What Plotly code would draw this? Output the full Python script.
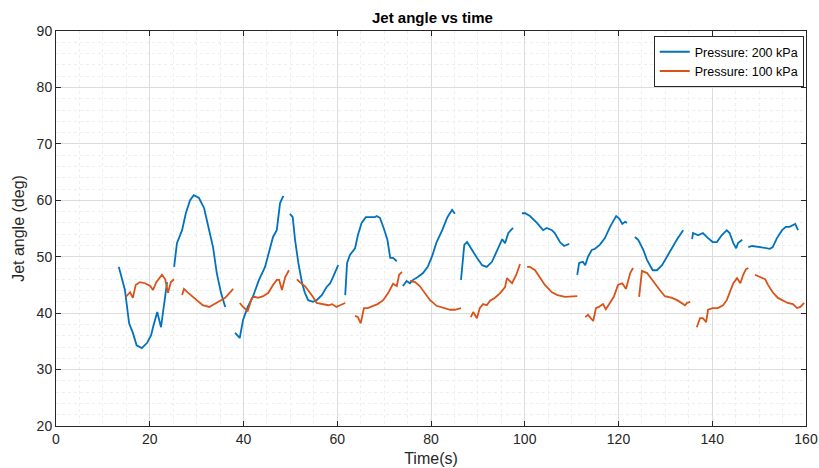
import plotly.graph_objects as go

# Pressure 200 kPa (segments separated by None)
t_200 = [13.4,14.7,15.6,16.4,17.2,18.3,19.4,20.3,20.7,21.6,22.4,23.1,23.7,None,
         25.2,25.8,26.9,27.7,28.6,29.4,30.5,31.6,32.5,33.5,34.3,35.2,36.1,None,
         38.2,39.2,39.9,40.9,42.0,43.3,44.6,45.7,46.3,47.1,47.8,48.5,None,
         49.9,50.5,51.0,51.7,52.5,53.1,53.8,54.8,55.6,56.7,57.7,58.5,59.3,60.2,None,
         61.7,62.1,62.7,63.8,64.4,65.2,66.1,68.0,68.4,69.1,69.9,70.7,71.3,71.9,72.7,None,
         74.0,74.8,75.5,76.2,77.2,78.3,79.3,80.2,81.2,82.4,83.5,84.5,85.1,None,
         86.4,87.1,87.7,88.7,89.8,90.9,91.9,93.0,94.0,95.2,95.8,96.5,97.5,None,
         99.4,100.1,101.1,102.6,103.9,104.7,105.8,106.4,107.5,108.4,109.5,None,
         111.2,111.6,112.4,112.9,113.5,114.3,115.0,116.0,117.1,118.2,119.5,120.2,120.8,121.4,121.8,None,
         123.5,124.2,125.3,126.1,127.3,128.2,129.3,130.3,131.4,132.5,133.8,None,
         135.7,135.9,137.0,138.0,139.1,140.1,141.0,142.0,143.1,143.7,144.5,145.1,145.5,146.4,None,
         147.7,148.5,150.2,151.3,152.3,152.9,153.8,154.9,155.7,156.5,157.7,158.3]
y_200 = [48.2,44.1,38.2,36.5,34.3,33.8,34.7,36.1,37.5,40.2,37.5,41.8,45.5,None,
         48.2,52.4,54.7,57.7,60.0,60.9,60.4,58.6,55.3,51.7,47.1,43.6,41.1,None,
         36.5,35.6,38.8,41.1,42.9,45.9,48.2,51.7,53.5,54.7,59.5,60.8,None,
         57.6,57.0,53.0,48.9,45.3,43.6,42.3,42.0,42.3,43.2,44.6,45.3,46.8,48.5,None,
         43.2,48.9,50.3,51.5,53.8,56.0,57.0,57.0,57.2,56.9,55.1,53.0,49.8,49.8,49.2,None,
         44.8,45.7,45.3,45.9,46.4,47.1,48.2,50.0,52.6,54.7,57.0,58.3,57.6,None,
         45.9,52.1,52.6,51.2,49.8,48.5,48.2,49.1,50.8,53.1,52.4,54.2,55.1,None,
         57.7,57.7,57.2,56.0,54.7,55.1,54.7,54.2,52.6,51.9,52.3,None,
         46.8,48.9,49.1,48.5,50.0,51.2,51.4,52.1,53.3,55.3,57.2,56.7,55.8,56.2,56.0,None,
         53.5,53.0,51.2,49.4,47.6,47.6,48.5,50.0,51.7,53.1,54.7,None,
         53.1,54.2,53.8,54.2,53.3,52.6,52.6,53.8,54.7,54.2,52.4,51.5,52.4,53.0,None,
         51.7,51.9,51.7,51.5,51.4,51.7,53.3,54.7,55.3,55.3,55.8,54.7]

# Pressure 100 kPa
t_100 = [14.9,15.8,16.4,17.0,17.9,19.0,20.1,20.7,21.4,22.6,23.3,23.9,24.5,25.2,None,
         26.9,27.3,28.2,29.2,30.3,31.3,32.7,34.0,35.0,36.1,37.8,None,
         39.2,39.9,40.9,41.8,42.4,43.1,44.2,45.3,46.3,47.1,47.6,48.2,48.9,49.7,None,
         51.4,52.0,53.1,53.8,54.8,55.6,56.9,58.1,58.9,59.8,60.6,61.7,None,
         63.8,64.4,65.0,65.7,66.5,67.6,68.6,69.8,70.9,71.9,72.7,73.2,73.8,None,
         75.5,76.6,77.6,78.7,79.8,81.2,82.6,84.1,85.1,86.4,None,
         88.5,89.0,89.8,90.4,91.1,91.9,92.6,93.6,94.8,95.8,96.2,97.3,98.2,99.0,None,
         100.5,101.1,102.2,103.2,104.3,105.8,107.0,108.6,110.1,111.2,None,
         112.9,113.5,114.6,115.2,115.8,116.7,117.3,118.1,119.0,119.9,120.8,121.6,122.5,123.1,None,
         124.4,125.0,126.1,126.7,127.8,128.8,129.9,131.4,132.5,133.6,134.2,134.6,135.3,None,
         136.7,137.4,138.0,138.7,139.1,140.1,141.2,142.3,143.1,143.7,144.5,145.3,146.0,146.6,147.2,147.7,None,
         149.1,150.2,151.3,151.9,152.9,154.0,155.1,156.1,157.2,158.1,158.8,159.6]
y_100 = [42.9,43.7,42.7,45.0,45.5,45.3,44.8,44.1,45.5,46.8,46.0,43.6,45.5,46.0,None,
         43.2,44.3,43.6,42.9,42.0,41.4,41.1,41.8,42.2,42.7,44.3,None,
         41.8,41.1,40.4,42.7,42.9,42.7,43.0,43.6,45.0,45.9,45.9,44.1,46.4,47.6,None,
         46.0,45.5,44.8,44.1,42.9,41.8,41.6,41.4,41.6,41.1,41.4,41.8,None,
         39.5,39.3,38.2,40.9,40.9,41.3,41.6,42.3,43.6,45.2,44.8,46.8,47.3,None,
         45.7,45.5,44.8,43.6,42.3,41.3,40.9,40.6,40.6,40.9,None,
         39.3,40.2,39.1,40.9,41.6,41.4,42.2,42.7,43.6,44.6,46.2,45.3,46.8,48.7,None,
         48.2,48.2,47.6,46.4,45.0,43.7,43.2,42.9,42.9,43.0,None,
         39.3,39.7,38.6,40.9,41.1,41.6,40.7,41.8,42.9,45.0,45.3,44.3,47.1,48.0,None,
         42.9,47.5,47.1,46.4,45.3,44.1,43.0,42.7,42.3,41.8,41.4,41.8,42.0,None,
         37.5,39.1,39.1,38.4,40.6,40.9,40.9,41.4,42.3,43.7,45.3,46.2,45.3,46.8,47.8,48.0,None,
         46.8,46.4,46.0,45.0,43.7,42.7,42.2,41.8,41.6,40.9,41.1,41.8]

series_names = ["Pressure: 200 kPa", "Pressure: 100 kPa"]
colors = ["#0072BD", "#D95319"]

x_ticks = [0, 20, 40, 60, 80, 100, 120, 140, 160]
y_ticks = [20, 30, 40, 50, 60, 70, 80, 90]

FONT = "Liberation Sans, Arial"

fig = go.Figure()
fig.add_trace(go.Scatter(x=t_200, y=y_200, mode="lines", name=series_names[0],
                         line=dict(color=colors[0], width=1.8), connectgaps=False))
fig.add_trace(go.Scatter(x=t_100, y=y_100, mode="lines", name=series_names[1],
                         line=dict(color=colors[1], width=1.8), connectgaps=False))

axis_common = dict(
    showline=True, linecolor="#262626", linewidth=1, mirror="ticks",
    ticks="inside", ticklen=5, tickcolor="#262626",
    showgrid=True, gridcolor="#dcdcdc", gridwidth=1,
    zeroline=False, automargin=False,
    tickfont=dict(family=FONT, size=14, color="#262626"),
)

fig.update_xaxes(range=[0, 160], tickvals=x_ticks, ticklabeloverflow="allow",
                 minor=dict(dtick=5, showgrid=True, gridcolor="#eeeeee", griddash="dot", ticks=""),
                 title=dict(text="Time(s)", font=dict(family=FONT, size=16, color="#262626"), standoff=7),
                 **axis_common)
fig.update_yaxes(range=[20, 90], tickvals=y_ticks,
                 minor=dict(dtick=2, showgrid=True, gridcolor="#eeeeee", griddash="dot", ticks=""),
                 title=dict(text="Jet angle (deg)", font=dict(family=FONT, size=16, color="#262626"), standoff=8),
                 **axis_common)

fig.update_layout(
    width=819, height=468,
    margin=dict(l=56, r=13, t=31, b=42),
    paper_bgcolor="white", plot_bgcolor="white",
    title=dict(text="<b>Jet angle vs time</b>", x=0.528, xanchor="center", y=0.962, yanchor="middle",
               font=dict(family=FONT, size=15, color="#000000")),
    legend=dict(x=0.997, y=0.987, xanchor="right", yanchor="top",
                bgcolor="white", bordercolor="#262626", borderwidth=1,
                font=dict(family=FONT, size=12.5, color="#000000"),
                tracegroupgap=0, itemwidth=30),
    showlegend=True,
)

fig.write_html("out.html")
